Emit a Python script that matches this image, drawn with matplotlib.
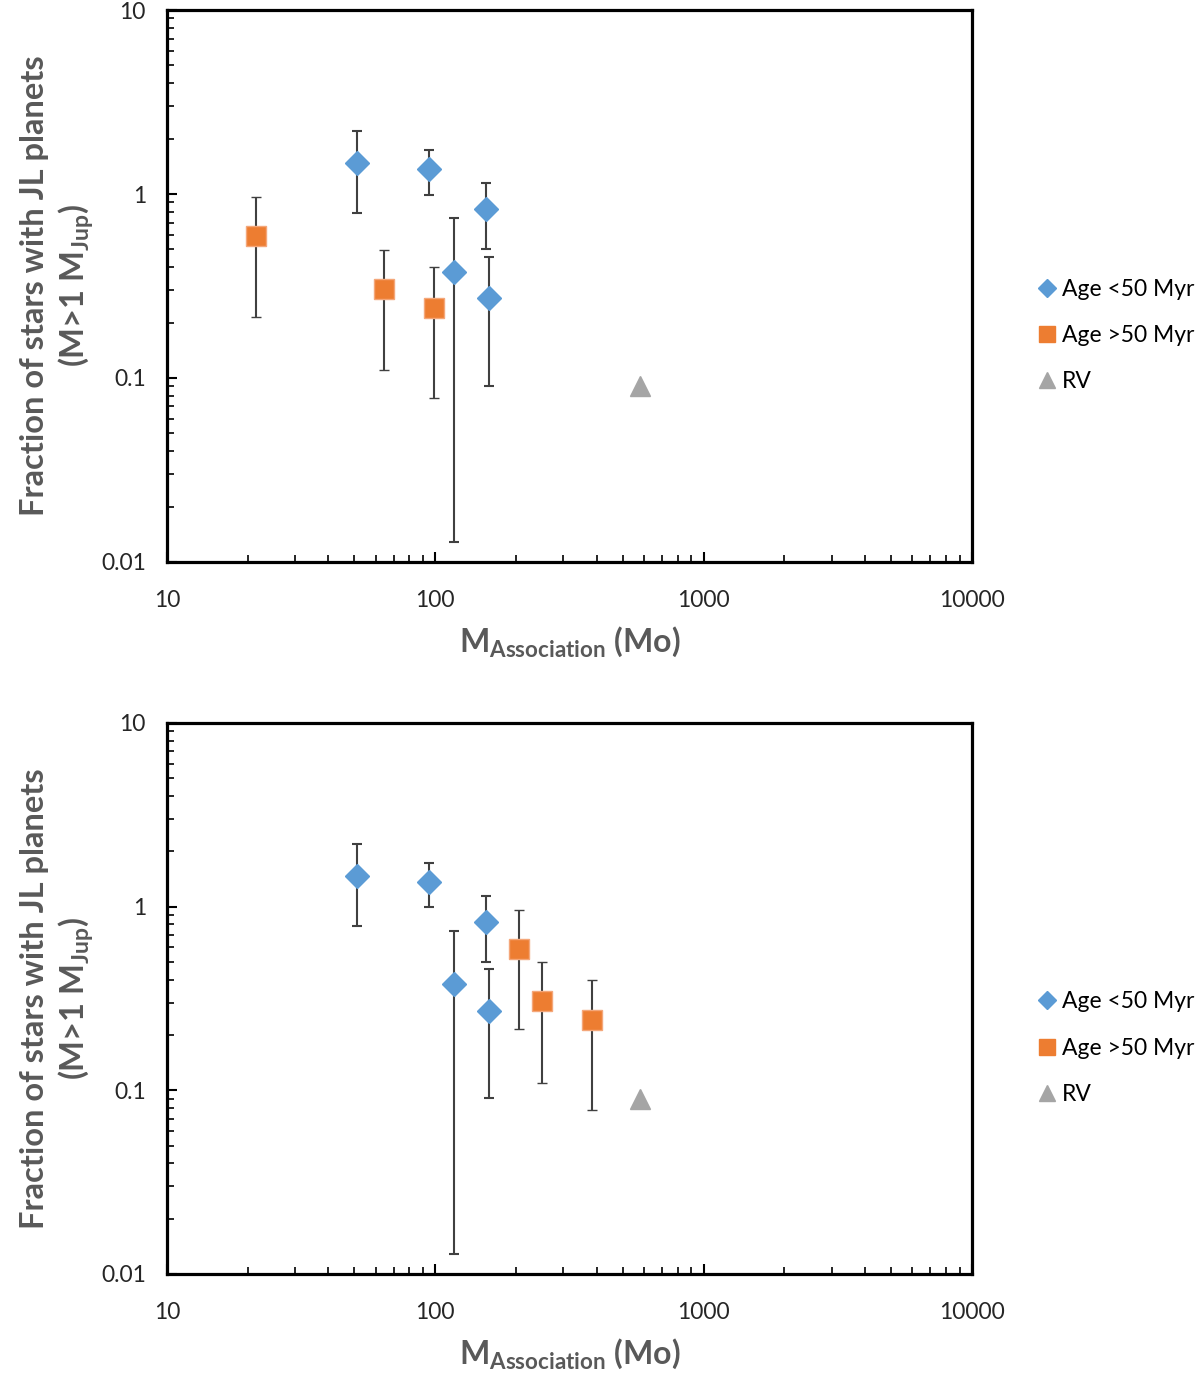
import matplotlib.pyplot as plt
from matplotlib.lines import Line2D
import numpy as np

plt.rcParams['font.family'] = ['Lato', 'DejaVu Sans']
plt.rcParams['mathtext.fontset'] = 'custom'
plt.rcParams['mathtext.rm'] = 'Lato:bold'
plt.rcParams['mathtext.it'] = 'Lato:bold'
plt.rcParams['mathtext.bf'] = 'Lato:bold'

# young associations (age < 50 Myr)
young_mass = [51, 94.6, 118, 155, 158]
young_frac = [1.47, 1.37, 0.377, 0.829, 0.272]
young_hi = [2.2, 1.73, 0.741, 1.15, 0.455]
young_lo = [0.788, 0.99, 0.0128, 0.502, 0.0905]

# older associations (age > 50 Myr), different mass in the two panels
old_mass_top = [21.5, 64.3, 98.7]
old_mass_bottom = [206, 249, 383]
old_frac = [0.591, 0.305, 0.240]
old_hi = [0.963, 0.497, 0.401]
old_lo = [0.215, 0.110, 0.078]

# radial velocity reference
rv_mass = [578]
rv_frac = [0.09]

blue = '#5B9BD5'
orange = '#ED7D31'
gray = '#A5A5A5'
ecol = '#404040'
txtgray = '#595959'

fig = plt.figure(figsize=(12, 13.74), dpi=100)
ax1 = fig.add_axes([0.139, 0.591, 0.671, 0.4017])
ax2 = fig.add_axes([0.139, 0.0728, 0.671, 0.401])


def err(val, hi, lo):
    v = np.array(val)
    return [v - np.array(lo), np.array(hi) - v]


for ax, old_mass in [(ax1, old_mass_top), (ax2, old_mass_bottom)]:
    ax.errorbar(young_mass, young_frac, yerr=err(young_frac, young_hi, young_lo),
                fmt='D', color=blue, ms=12, mec=blue, ecolor=ecol,
                elinewidth=1.5, capsize=3.5, capthick=1.5, zorder=3)
    ax.errorbar(old_mass, old_frac, yerr=err(old_frac, old_hi, old_lo),
                fmt='s', color=orange, ms=15, mec='#F4A77A', mew=1, ecolor=ecol,
                elinewidth=1.5, capsize=3.5, capthick=1.5, zorder=3)
    ax.plot(rv_mass, rv_frac, '^', color=gray, ms=15, zorder=3)

    ax.set_xscale('log')
    ax.set_yscale('log')
    ax.set_xlim(10, 10000)
    ax.set_ylim(0.01, 10)
    ax.set_xticks([10, 100, 1000, 10000])
    ax.set_xticklabels(['10', '100', '1000', '10000'])
    ax.set_yticks([0.01, 0.1, 1, 10])
    ax.set_yticklabels(['0.01', '0.1', '1', '10'])
    for s in ax.spines.values():
        s.set_linewidth(2.3)
    ax.tick_params(which='major', direction='in', length=7, width=1.5,
                   labelsize=16.5, labelcolor='#262626')
    ax.tick_params(which='minor', direction='in', length=5, width=1.2)
    ax.tick_params(axis='x', which='major', pad=20)
    ax.tick_params(axis='y', which='major', pad=15)

    ax.set_xlabel(r'M$_{Association}$ (Mo)', fontsize=23, fontweight='bold',
                  color=txtgray, labelpad=10)
    ax.set_ylabel('Fraction of stars with JL planets\n(M>1 M$_{Jup}$)', fontsize=23.5,
                  fontweight='bold', color=txtgray, labelpad=4, linespacing=1.25)

    handles = [
        Line2D([], [], marker='D', ls='none', color=blue, ms=9),
        Line2D([], [], marker='s', ls='none', color=orange, ms=11),
        Line2D([], [], marker='^', ls='none', color=gray, ms=11),
    ]
    ax.legend(handles, ['Age <50 Myr', 'Age >50 Myr', 'RV'], loc='center left',
              bbox_to_anchor=(1.085, 0.41), frameon=False, fontsize=16.5,
              handlelength=0.6, handletextpad=0.35, labelspacing=1.1,
              borderaxespad=0, borderpad=0)

fig.savefig('out.png', dpi=100)
